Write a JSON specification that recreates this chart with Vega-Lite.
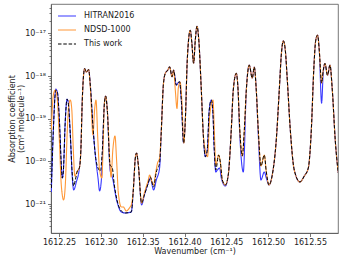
{
"$schema": "https://vega.github.io/schema/vega-lite/v6.json",
"width": 287, "height": 229,
"autosize": {"type": "none"},
"padding": {"left": 51, "top": 4, "right": 5, "bottom": 27},
"config": {
  "font": "DejaVu Sans",
  "view": {"stroke": "#555", "strokeWidth": 0.8},
  "axis": {"grid": false, "labelFont": "DejaVu Sans", "titleFont": "DejaVu Sans", "labelFontSize": 8, "titleFontSize": 8, "titleFontWeight": "normal", "labelColor": "#222", "titleColor": "#222", "tickColor": "#555", "domainColor": "#555", "domainWidth": 0.8, "tickWidth": 0.8},
  "legend": {"orient": "none", "legendX": 6, "legendY": 2, "padding": 0, "labelFontSize": 8, "labelFont": "DejaVu Sans", "labelColor": "#222", "symbolType": "stroke", "symbolSize": 324, "symbolStrokeWidth": 1.2, "rowPadding": -2, "labelOffset": 7}
},
"data": {"values": [
{"s":"HITRAN2016","x":1612.2408,"y":1.92e-21},{"s":"HITRAN2016","x":1612.2432,"y":5.43e-20},{"s":"HITRAN2016","x":1612.2462,"y":4.96e-19},{"s":"HITRAN2016","x":1612.2480,"y":4.22e-19},{"s":"HITRAN2016","x":1612.2504,"y":9.33e-20},{"s":"HITRAN2016","x":1612.2527,"y":8.24e-21},{"s":"HITRAN2016","x":1612.2539,"y":4.08e-21},{"s":"HITRAN2016","x":1612.2551,"y":5.65e-21},{"s":"HITRAN2016","x":1612.2575,"y":9.33e-20},{"s":"HITRAN2016","x":1612.2596,"y":2.89e-19},{"s":"HITRAN2016","x":1612.2611,"y":2.33e-19},{"s":"HITRAN2016","x":1612.2635,"y":4.15e-20},{"s":"HITRAN2016","x":1612.2659,"y":4.08e-21},{"s":"HITRAN2016","x":1612.2675,"y":2.14e-21},{"s":"HITRAN2016","x":1612.2707,"y":3.30e-21},{"s":"HITRAN2016","x":1612.2743,"y":7.00e-21},{"s":"HITRAN2016","x":1612.2761,"y":1.85e-20},{"s":"HITRAN2016","x":1612.2778,"y":2.74e-19},{"s":"HITRAN2016","x":1612.2806,"y":1.50e-18},{"s":"HITRAN2016","x":1612.2826,"y":1.24e-18},{"s":"HITRAN2016","x":1612.2854,"y":1.42e-18},{"s":"HITRAN2016","x":1612.2874,"y":6.15e-19},{"s":"HITRAN2016","x":1612.2906,"y":6.40e-20},{"s":"HITRAN2016","x":1612.2934,"y":1.41e-20},{"s":"HITRAN2016","x":1612.2966,"y":4.08e-21},{"s":"HITRAN2016","x":1612.2985,"y":2.03e-21},{"s":"HITRAN2016","x":1612.3006,"y":3.67e-21},{"s":"HITRAN2016","x":1612.3018,"y":1.41e-20},{"s":"HITRAN2016","x":1612.3041,"y":2.09e-19},{"s":"HITRAN2016","x":1612.3057,"y":3.40e-19},{"s":"HITRAN2016","x":1612.3077,"y":1.60e-19},{"s":"HITRAN2016","x":1612.3110,"y":6.29e-21},{"s":"HITRAN2016","x":1612.3137,"y":4.31e-21},{"s":"HITRAN2016","x":1612.3188,"y":1.25e-21},{"s":"HITRAN2016","x":1612.3245,"y":6.53e-22},{"s":"HITRAN2016","x":1612.3292,"y":6.19e-22},{"s":"HITRAN2016","x":1612.3364,"y":6.53e-22},{"s":"HITRAN2016","x":1612.3388,"y":2.14e-21},{"s":"HITRAN2016","x":1612.3412,"y":1.20e-20},{"s":"HITRAN2016","x":1612.3427,"y":1.57e-20},{"s":"HITRAN2016","x":1612.3448,"y":8.24e-21},{"s":"HITRAN2016","x":1612.3487,"y":9.53e-22},{"s":"HITRAN2016","x":1612.3520,"y":1.63e-21},{"s":"HITRAN2016","x":1612.3567,"y":3.12e-21},{"s":"HITRAN2016","x":1612.3591,"y":4.08e-21},{"s":"HITRAN2016","x":1612.3631,"y":2.14e-21},{"s":"HITRAN2016","x":1612.3663,"y":3.67e-21},{"s":"HITRAN2016","x":1612.3702,"y":7.00e-21},{"s":"HITRAN2016","x":1612.3723,"y":5.43e-20},{"s":"HITRAN2016","x":1612.3747,"y":6.15e-19},{"s":"HITRAN2016","x":1612.3770,"y":1.16e-18},{"s":"HITRAN2016","x":1612.3800,"y":1.38e-18},{"s":"HITRAN2016","x":1612.3822,"y":1.65e-18},{"s":"HITRAN2016","x":1612.3851,"y":9.64e-19},{"s":"HITRAN2016","x":1612.3870,"y":1.38e-18},{"s":"HITRAN2016","x":1612.3902,"y":6.15e-19},{"s":"HITRAN2016","x":1612.3920,"y":6.86e-19},{"s":"HITRAN2016","x":1612.3941,"y":7.36e-19},{"s":"HITRAN2016","x":1612.3962,"y":2.74e-19},{"s":"HITRAN2016","x":1612.3989,"y":2.70e-20},{"s":"HITRAN2016","x":1612.4010,"y":9.33e-20},{"s":"HITRAN2016","x":1612.4033,"y":2.37e-18},{"s":"HITRAN2016","x":1612.4069,"y":1.19e-17},{"s":"HITRAN2016","x":1612.4087,"y":6.25e-18},{"s":"HITRAN2016","x":1612.4109,"y":2.01e-18},{"s":"HITRAN2016","x":1612.4129,"y":6.97e-18},{"s":"HITRAN2016","x":1612.4149,"y":1.48e-17},{"s":"HITRAN2016","x":1612.4171,"y":6.97e-18},{"s":"HITRAN2016","x":1612.4201,"y":4.70e-19},{"s":"HITRAN2016","x":1612.4225,"y":4.15e-20},{"s":"HITRAN2016","x":1612.4249,"y":1.29e-20},{"s":"HITRAN2016","x":1612.4272,"y":1.85e-20},{"s":"HITRAN2016","x":1612.4296,"y":1.60e-19},{"s":"HITRAN2016","x":1612.4320,"y":2.74e-19},{"s":"HITRAN2016","x":1612.4338,"y":1.60e-19},{"s":"HITRAN2016","x":1612.4356,"y":1.85e-20},{"s":"HITRAN2016","x":1612.4374,"y":5.65e-21},{"s":"HITRAN2016","x":1612.4392,"y":6.29e-21},{"s":"HITRAN2016","x":1612.4420,"y":7.00e-21},{"s":"HITRAN2016","x":1612.4440,"y":4.08e-21},{"s":"HITRAN2016","x":1612.4488,"y":2.65e-21},{"s":"HITRAN2016","x":1612.4523,"y":4.80e-21},{"s":"HITRAN2016","x":1612.4559,"y":5.43e-20},{"s":"HITRAN2016","x":1612.4583,"y":4.70e-19},{"s":"HITRAN2016","x":1612.4619,"y":1.16e-18},{"s":"HITRAN2016","x":1612.4637,"y":6.15e-19},{"s":"HITRAN2016","x":1612.4661,"y":4.15e-20},{"s":"HITRAN2016","x":1612.4703,"y":5.65e-21},{"s":"HITRAN2016","x":1612.4739,"y":4.70e-19},{"s":"HITRAN2016","x":1612.4774,"y":1.81e-18},{"s":"HITRAN2016","x":1612.4810,"y":8.98e-19},{"s":"HITRAN2016","x":1612.4834,"y":1.63e-18},{"s":"HITRAN2016","x":1612.4858,"y":4.70e-19},{"s":"HITRAN2016","x":1612.4882,"y":4.15e-20},{"s":"HITRAN2016","x":1612.4914,"y":3.67e-21},{"s":"HITRAN2016","x":1612.4954,"y":5.65e-21},{"s":"HITRAN2016","x":1612.4978,"y":4.08e-21},{"s":"HITRAN2016","x":1612.5010,"y":2.80e-21},{"s":"HITRAN2016","x":1612.5049,"y":4.80e-21},{"s":"HITRAN2016","x":1612.5097,"y":3.17e-20},{"s":"HITRAN2016","x":1612.5133,"y":4.70e-19},{"s":"HITRAN2016","x":1612.5157,"y":3.10e-18},{"s":"HITRAN2016","x":1612.5181,"y":6.71e-18},{"s":"HITRAN2016","x":1612.5205,"y":4.06e-18},{"s":"HITRAN2016","x":1612.5229,"y":8.05e-19},{"s":"HITRAN2016","x":1612.5265,"y":5.43e-20},{"s":"HITRAN2016","x":1612.5312,"y":6.29e-21},{"s":"HITRAN2016","x":1612.5380,"y":3.30e-21},{"s":"HITRAN2016","x":1612.5432,"y":4.55e-21},{"s":"HITRAN2016","x":1612.5480,"y":7.00e-21},{"s":"HITRAN2016","x":1612.5516,"y":5.43e-20},{"s":"HITRAN2016","x":1612.5545,"y":1.38e-18},{"s":"HITRAN2016","x":1612.5569,"y":6.97e-18},{"s":"HITRAN2016","x":1612.5591,"y":9.12e-18},{"s":"HITRAN2016","x":1612.5611,"y":4.06e-18},{"s":"HITRAN2016","x":1612.5639,"y":2.33e-19},{"s":"HITRAN2016","x":1612.5659,"y":1.24e-18},{"s":"HITRAN2016","x":1612.5679,"y":1.98e-18},{"s":"HITRAN2016","x":1612.5710,"y":1.05e-18},{"s":"HITRAN2016","x":1612.5739,"y":1.81e-18},{"s":"HITRAN2016","x":1612.5767,"y":4.70e-19},{"s":"HITRAN2016","x":1612.5802,"y":3.17e-20},{"s":"HITRAN2016","x":1612.5838,"y":5.35e-21},
{"s":"NDSD-1000","x":1612.2408,"y":5.43e-20},{"s":"NDSD-1000","x":1612.2432,"y":3.59e-19},{"s":"NDSD-1000","x":1612.2456,"y":4.70e-19},{"s":"NDSD-1000","x":1612.2480,"y":2.74e-19},{"s":"NDSD-1000","x":1612.2504,"y":3.17e-20},{"s":"NDSD-1000","x":1612.2527,"y":2.80e-21},{"s":"NDSD-1000","x":1612.2555,"y":1.25e-21},{"s":"NDSD-1000","x":1612.2575,"y":2.80e-21},{"s":"NDSD-1000","x":1612.2599,"y":5.43e-20},{"s":"NDSD-1000","x":1612.2617,"y":2.09e-19},{"s":"NDSD-1000","x":1612.2635,"y":2.74e-19},{"s":"NDSD-1000","x":1612.2653,"y":1.60e-19},{"s":"NDSD-1000","x":1612.2671,"y":1.85e-20},{"s":"NDSD-1000","x":1612.2689,"y":4.55e-21},{"s":"NDSD-1000","x":1612.2719,"y":5.96e-21},{"s":"NDSD-1000","x":1612.2743,"y":7.00e-21},{"s":"NDSD-1000","x":1612.2761,"y":1.85e-20},{"s":"NDSD-1000","x":1612.2778,"y":2.74e-19},{"s":"NDSD-1000","x":1612.2806,"y":1.50e-18},{"s":"NDSD-1000","x":1612.2826,"y":1.24e-18},{"s":"NDSD-1000","x":1612.2854,"y":1.42e-18},{"s":"NDSD-1000","x":1612.2874,"y":5.52e-19},{"s":"NDSD-1000","x":1612.2906,"y":4.15e-20},{"s":"NDSD-1000","x":1612.2925,"y":1.60e-19},{"s":"NDSD-1000","x":1612.2942,"y":2.74e-19},{"s":"NDSD-1000","x":1612.2964,"y":3.17e-20},{"s":"NDSD-1000","x":1612.2985,"y":6.29e-21},{"s":"NDSD-1000","x":1612.3012,"y":4.08e-21},{"s":"NDSD-1000","x":1612.3029,"y":3.17e-20},{"s":"NDSD-1000","x":1612.3041,"y":2.09e-19},{"s":"NDSD-1000","x":1612.3057,"y":3.40e-19},{"s":"NDSD-1000","x":1612.3077,"y":1.60e-19},{"s":"NDSD-1000","x":1612.3110,"y":8.24e-21},{"s":"NDSD-1000","x":1612.3122,"y":4.31e-21},{"s":"NDSD-1000","x":1612.3143,"y":1.85e-20},{"s":"NDSD-1000","x":1612.3169,"y":3.94e-20},{"s":"NDSD-1000","x":1612.3188,"y":1.08e-20},{"s":"NDSD-1000","x":1612.3209,"y":1.82e-21},{"s":"NDSD-1000","x":1612.3245,"y":8.55e-22},{"s":"NDSD-1000","x":1612.3269,"y":8.55e-22},{"s":"NDSD-1000","x":1612.3304,"y":6.89e-22},{"s":"NDSD-1000","x":1612.3349,"y":8.55e-22},{"s":"NDSD-1000","x":1612.3364,"y":9.53e-22},{"s":"NDSD-1000","x":1612.3388,"y":2.14e-21},{"s":"NDSD-1000","x":1612.3412,"y":1.20e-20},{"s":"NDSD-1000","x":1612.3427,"y":1.57e-20},{"s":"NDSD-1000","x":1612.3448,"y":8.24e-21},{"s":"NDSD-1000","x":1612.3487,"y":1.06e-21},{"s":"NDSD-1000","x":1612.3520,"y":1.82e-21},{"s":"NDSD-1000","x":1612.3567,"y":3.67e-21},{"s":"NDSD-1000","x":1612.3583,"y":4.80e-21},{"s":"NDSD-1000","x":1612.3603,"y":3.67e-21},{"s":"NDSD-1000","x":1612.3631,"y":2.80e-21},{"s":"NDSD-1000","x":1612.3651,"y":4.80e-21},{"s":"NDSD-1000","x":1612.3678,"y":9.18e-21},{"s":"NDSD-1000","x":1612.3702,"y":1.20e-20},{"s":"NDSD-1000","x":1612.3723,"y":5.43e-20},{"s":"NDSD-1000","x":1612.3747,"y":6.15e-19},{"s":"NDSD-1000","x":1612.3770,"y":1.16e-18},{"s":"NDSD-1000","x":1612.3800,"y":1.38e-18},{"s":"NDSD-1000","x":1612.3822,"y":1.65e-18},{"s":"NDSD-1000","x":1612.3851,"y":9.64e-19},{"s":"NDSD-1000","x":1612.3870,"y":1.38e-18},{"s":"NDSD-1000","x":1612.3890,"y":4.70e-19},{"s":"NDSD-1000","x":1612.3910,"y":1.75e-19},{"s":"NDSD-1000","x":1612.3926,"y":5.24e-19},{"s":"NDSD-1000","x":1612.3947,"y":7.24e-19},{"s":"NDSD-1000","x":1612.3968,"y":2.74e-19},{"s":"NDSD-1000","x":1612.3992,"y":2.70e-20},{"s":"NDSD-1000","x":1612.4010,"y":9.33e-20},{"s":"NDSD-1000","x":1612.4033,"y":2.37e-18},{"s":"NDSD-1000","x":1612.4069,"y":1.19e-17},{"s":"NDSD-1000","x":1612.4087,"y":6.25e-18},{"s":"NDSD-1000","x":1612.4109,"y":2.01e-18},{"s":"NDSD-1000","x":1612.4129,"y":6.97e-18},{"s":"NDSD-1000","x":1612.4149,"y":1.48e-17},{"s":"NDSD-1000","x":1612.4171,"y":6.97e-18},{"s":"NDSD-1000","x":1612.4201,"y":4.70e-19},{"s":"NDSD-1000","x":1612.4225,"y":4.15e-20},{"s":"NDSD-1000","x":1612.4249,"y":1.85e-20},{"s":"NDSD-1000","x":1612.4276,"y":1.29e-20},{"s":"NDSD-1000","x":1612.4302,"y":1.22e-19},{"s":"NDSD-1000","x":1612.4341,"y":2.74e-19},{"s":"NDSD-1000","x":1612.4356,"y":5.43e-20},{"s":"NDSD-1000","x":1612.4374,"y":8.24e-21},{"s":"NDSD-1000","x":1612.4408,"y":1.41e-20},{"s":"NDSD-1000","x":1612.4428,"y":9.68e-21},{"s":"NDSD-1000","x":1612.4452,"y":3.67e-21},{"s":"NDSD-1000","x":1612.4488,"y":2.80e-21},{"s":"NDSD-1000","x":1612.4523,"y":4.80e-21},{"s":"NDSD-1000","x":1612.4559,"y":5.43e-20},{"s":"NDSD-1000","x":1612.4583,"y":4.70e-19},{"s":"NDSD-1000","x":1612.4619,"y":1.16e-18},{"s":"NDSD-1000","x":1612.4637,"y":6.15e-19},{"s":"NDSD-1000","x":1612.4661,"y":5.43e-20},{"s":"NDSD-1000","x":1612.4691,"y":1.34e-20},{"s":"NDSD-1000","x":1612.4715,"y":5.43e-20},{"s":"NDSD-1000","x":1612.4739,"y":4.70e-19},{"s":"NDSD-1000","x":1612.4774,"y":1.81e-18},{"s":"NDSD-1000","x":1612.4810,"y":8.98e-19},{"s":"NDSD-1000","x":1612.4834,"y":1.63e-18},{"s":"NDSD-1000","x":1612.4858,"y":4.70e-19},{"s":"NDSD-1000","x":1612.4882,"y":5.43e-20},{"s":"NDSD-1000","x":1612.4914,"y":7.80e-21},{"s":"NDSD-1000","x":1612.4954,"y":1.41e-20},{"s":"NDSD-1000","x":1612.4978,"y":5.65e-21},{"s":"NDSD-1000","x":1612.5010,"y":2.80e-21},{"s":"NDSD-1000","x":1612.5049,"y":4.80e-21},{"s":"NDSD-1000","x":1612.5097,"y":3.17e-20},{"s":"NDSD-1000","x":1612.5133,"y":4.70e-19},{"s":"NDSD-1000","x":1612.5157,"y":3.10e-18},{"s":"NDSD-1000","x":1612.5181,"y":6.71e-18},{"s":"NDSD-1000","x":1612.5205,"y":4.06e-18},{"s":"NDSD-1000","x":1612.5229,"y":8.05e-19},{"s":"NDSD-1000","x":1612.5265,"y":5.43e-20},{"s":"NDSD-1000","x":1612.5312,"y":6.29e-21},{"s":"NDSD-1000","x":1612.5380,"y":3.30e-21},{"s":"NDSD-1000","x":1612.5432,"y":4.55e-21},{"s":"NDSD-1000","x":1612.5480,"y":7.00e-21},{"s":"NDSD-1000","x":1612.5516,"y":5.43e-20},{"s":"NDSD-1000","x":1612.5545,"y":1.38e-18},{"s":"NDSD-1000","x":1612.5569,"y":6.97e-18},{"s":"NDSD-1000","x":1612.5591,"y":9.12e-18},{"s":"NDSD-1000","x":1612.5611,"y":4.06e-18},{"s":"NDSD-1000","x":1612.5639,"y":6.86e-19},{"s":"NDSD-1000","x":1612.5659,"y":1.38e-18},{"s":"NDSD-1000","x":1612.5679,"y":1.98e-18},{"s":"NDSD-1000","x":1612.5710,"y":1.05e-18},{"s":"NDSD-1000","x":1612.5739,"y":1.81e-18},{"s":"NDSD-1000","x":1612.5767,"y":4.70e-19},{"s":"NDSD-1000","x":1612.5802,"y":3.17e-20},{"s":"NDSD-1000","x":1612.5838,"y":5.35e-21},
{"s":"This work","x":1612.2408,"y":2.38e-21},{"s":"This work","x":1612.2432,"y":5.43e-20},{"s":"This work","x":1612.2462,"y":4.70e-19},{"s":"This work","x":1612.2480,"y":4.22e-19},{"s":"This work","x":1612.2504,"y":9.33e-20},{"s":"This work","x":1612.2527,"y":8.24e-21},{"s":"This work","x":1612.2539,"y":4.08e-21},{"s":"This work","x":1612.2551,"y":5.65e-21},{"s":"This work","x":1612.2575,"y":9.33e-20},{"s":"This work","x":1612.2596,"y":2.89e-19},{"s":"This work","x":1612.2611,"y":2.33e-19},{"s":"This work","x":1612.2635,"y":4.15e-20},{"s":"This work","x":1612.2659,"y":4.80e-21},{"s":"This work","x":1612.2675,"y":2.65e-21},{"s":"This work","x":1612.2695,"y":3.67e-21},{"s":"This work","x":1612.2719,"y":5.96e-21},{"s":"This work","x":1612.2743,"y":7.00e-21},{"s":"This work","x":1612.2761,"y":1.85e-20},{"s":"This work","x":1612.2778,"y":2.74e-19},{"s":"This work","x":1612.2806,"y":1.50e-18},{"s":"This work","x":1612.2826,"y":1.24e-18},{"s":"This work","x":1612.2854,"y":1.42e-18},{"s":"This work","x":1612.2874,"y":6.15e-19},{"s":"This work","x":1612.2906,"y":6.40e-20},{"s":"This work","x":1612.2934,"y":1.41e-20},{"s":"This work","x":1612.2966,"y":7.00e-21},{"s":"This work","x":1612.2994,"y":5.96e-21},{"s":"This work","x":1612.3018,"y":1.85e-20},{"s":"This work","x":1612.3041,"y":2.09e-19},{"s":"This work","x":1612.3057,"y":3.40e-19},{"s":"This work","x":1612.3077,"y":1.60e-19},{"s":"This work","x":1612.3110,"y":8.24e-21},{"s":"This work","x":1612.3137,"y":7.00e-21},{"s":"This work","x":1612.3161,"y":2.80e-21},{"s":"This work","x":1612.3209,"y":9.53e-22},{"s":"This work","x":1612.3245,"y":6.89e-22},{"s":"This work","x":1612.3292,"y":6.19e-22},{"s":"This work","x":1612.3364,"y":6.53e-22},{"s":"This work","x":1612.3388,"y":2.14e-21},{"s":"This work","x":1612.3412,"y":1.20e-20},{"s":"This work","x":1612.3427,"y":1.57e-20},{"s":"This work","x":1612.3448,"y":8.24e-21},{"s":"This work","x":1612.3487,"y":1.06e-21},{"s":"This work","x":1612.3520,"y":1.63e-21},{"s":"This work","x":1612.3567,"y":3.12e-21},{"s":"This work","x":1612.3591,"y":4.31e-21},{"s":"This work","x":1612.3631,"y":2.51e-21},{"s":"This work","x":1612.3663,"y":5.65e-21},{"s":"This work","x":1612.3702,"y":9.18e-21},{"s":"This work","x":1612.3723,"y":5.43e-20},{"s":"This work","x":1612.3747,"y":6.15e-19},{"s":"This work","x":1612.3770,"y":1.16e-18},{"s":"This work","x":1612.3800,"y":1.38e-18},{"s":"This work","x":1612.3822,"y":1.65e-18},{"s":"This work","x":1612.3851,"y":9.64e-19},{"s":"This work","x":1612.3870,"y":1.38e-18},{"s":"This work","x":1612.3902,"y":6.15e-19},{"s":"This work","x":1612.3920,"y":6.86e-19},{"s":"This work","x":1612.3941,"y":7.36e-19},{"s":"This work","x":1612.3962,"y":2.74e-19},{"s":"This work","x":1612.3989,"y":2.70e-20},{"s":"This work","x":1612.4010,"y":9.33e-20},{"s":"This work","x":1612.4033,"y":2.37e-18},{"s":"This work","x":1612.4069,"y":1.19e-17},{"s":"This work","x":1612.4087,"y":6.25e-18},{"s":"This work","x":1612.4109,"y":2.01e-18},{"s":"This work","x":1612.4129,"y":6.97e-18},{"s":"This work","x":1612.4149,"y":1.48e-17},{"s":"This work","x":1612.4171,"y":6.97e-18},{"s":"This work","x":1612.4201,"y":4.70e-19},{"s":"This work","x":1612.4225,"y":4.15e-20},{"s":"This work","x":1612.4249,"y":1.29e-20},{"s":"This work","x":1612.4272,"y":1.85e-20},{"s":"This work","x":1612.4296,"y":1.60e-19},{"s":"This work","x":1612.4320,"y":2.74e-19},{"s":"This work","x":1612.4338,"y":1.60e-19},{"s":"This work","x":1612.4356,"y":1.85e-20},{"s":"This work","x":1612.4374,"y":6.29e-21},{"s":"This work","x":1612.4408,"y":1.41e-20},{"s":"This work","x":1612.4428,"y":9.68e-21},{"s":"This work","x":1612.4452,"y":3.67e-21},{"s":"This work","x":1612.4488,"y":2.80e-21},{"s":"This work","x":1612.4523,"y":4.80e-21},{"s":"This work","x":1612.4559,"y":5.43e-20},{"s":"This work","x":1612.4583,"y":4.70e-19},{"s":"This work","x":1612.4619,"y":1.16e-18},{"s":"This work","x":1612.4637,"y":6.15e-19},{"s":"This work","x":1612.4661,"y":5.43e-20},{"s":"This work","x":1612.4691,"y":1.34e-20},{"s":"This work","x":1612.4715,"y":5.43e-20},{"s":"This work","x":1612.4739,"y":4.70e-19},{"s":"This work","x":1612.4774,"y":1.81e-18},{"s":"This work","x":1612.4810,"y":8.98e-19},{"s":"This work","x":1612.4834,"y":1.63e-18},{"s":"This work","x":1612.4858,"y":4.70e-19},{"s":"This work","x":1612.4882,"y":5.43e-20},{"s":"This work","x":1612.4914,"y":7.80e-21},{"s":"This work","x":1612.4954,"y":1.41e-20},{"s":"This work","x":1612.4978,"y":5.65e-21},{"s":"This work","x":1612.5010,"y":2.80e-21},{"s":"This work","x":1612.5049,"y":4.80e-21},{"s":"This work","x":1612.5097,"y":3.17e-20},{"s":"This work","x":1612.5133,"y":4.70e-19},{"s":"This work","x":1612.5157,"y":3.10e-18},{"s":"This work","x":1612.5181,"y":6.71e-18},{"s":"This work","x":1612.5205,"y":4.06e-18},{"s":"This work","x":1612.5229,"y":8.05e-19},{"s":"This work","x":1612.5265,"y":5.43e-20},{"s":"This work","x":1612.5312,"y":6.29e-21},{"s":"This work","x":1612.5380,"y":3.30e-21},{"s":"This work","x":1612.5432,"y":4.55e-21},{"s":"This work","x":1612.5480,"y":7.00e-21},{"s":"This work","x":1612.5516,"y":5.43e-20},{"s":"This work","x":1612.5545,"y":1.38e-18},{"s":"This work","x":1612.5569,"y":6.97e-18},{"s":"This work","x":1612.5591,"y":9.12e-18},{"s":"This work","x":1612.5611,"y":4.06e-18},{"s":"This work","x":1612.5639,"y":6.86e-19},{"s":"This work","x":1612.5659,"y":1.38e-18},{"s":"This work","x":1612.5679,"y":1.98e-18},{"s":"This work","x":1612.5710,"y":1.05e-18},{"s":"This work","x":1612.5739,"y":1.81e-18},{"s":"This work","x":1612.5767,"y":4.70e-19},{"s":"This work","x":1612.5802,"y":3.17e-20},{"s":"This work","x":1612.5838,"y":5.35e-21}
]},
"encoding": {
  "x": {"field": "x", "type": "quantitative", "scale": {"domain": [1612.2404, 1612.5835], "nice": false, "zero": false},
        "axis": {"values": [1612.25, 1612.30, 1612.35, 1612.40, 1612.45, 1612.50, 1612.55], "format": ".2f", "tickSize": 3.5, "labelPadding": 2, "labelFlush": false, "labelOverlap": false, "title": "Wavenumber (cm⁻¹)", "titlePadding": 1}},
  "y": {"field": "y", "type": "quantitative", "scale": {"type": "log", "domain": [2.1e-22, 4.9e-17], "nice": false},
        "axis": {"values": [2e-22,3e-22,4e-22,5e-22,6e-22,7e-22,8e-22,9e-22,1e-21,2e-21,3e-21,4e-21,5e-21,6e-21,7e-21,8e-21,9e-21,1e-20,2e-20,3e-20,4e-20,5e-20,6e-20,7e-20,8e-20,9e-20,1e-19,2e-19,3e-19,4e-19,5e-19,6e-19,7e-19,8e-19,9e-19,1e-18,2e-18,3e-18,4e-18,5e-18,6e-18,7e-18,8e-18,9e-18,1e-17,2e-17,3e-17,4e-17],
                 "labelExpr": "abs(datum.value/pow(10,round(log(datum.value)/LN10))-1)<0.01 ? ('10' + (round(log(datum.value)/LN10)==-17 ? '⁻¹⁷' : round(log(datum.value)/LN10)==-18 ? '⁻¹⁸' : round(log(datum.value)/LN10)==-19 ? '⁻¹⁹' : round(log(datum.value)/LN10)==-20 ? '⁻²⁰' : '⁻²¹')) : ''",
                 "tickSize": {"condition": {"test": "abs(datum.value/pow(10,round(log(datum.value)/LN10))-1)<0.01", "value": 3.5}, "value": 2},
                 "labelOverlap": false, "labelPadding": 2, "title": ["Absorption coefficient", "(cm² molecule⁻¹)"], "titlePadding": -1, "titleLineHeight": 9.5}},
  "color": {"field": "s", "type": "nominal", "scale": {"domain": ["HITRAN2016", "NDSD-1000", "This work"], "range": ["#3838ff", "#ff9838", "#000000"]}, "legend": {"title": null}},
  "strokeDash": {"field": "s", "type": "nominal", "scale": {"domain": ["HITRAN2016", "NDSD-1000", "This work"], "range": [[1, 0], [1, 0], [3.5, 1.8]]}, "legend": {"title": null}}
},
"layer": [
  {"transform": [{"filter": "datum.s == 'HITRAN2016'"}], "mark": {"type": "line", "strokeWidth": 1.1, "interpolate": "monotone", "clip": true}},
  {"transform": [{"filter": "datum.s == 'NDSD-1000'"}], "mark": {"type": "line", "strokeWidth": 1.1, "interpolate": "monotone", "clip": true}},
  {"transform": [{"filter": "datum.s == 'This work'"}], "mark": {"type": "line", "strokeWidth": 1, "interpolate": "monotone", "clip": true}}
]
}
